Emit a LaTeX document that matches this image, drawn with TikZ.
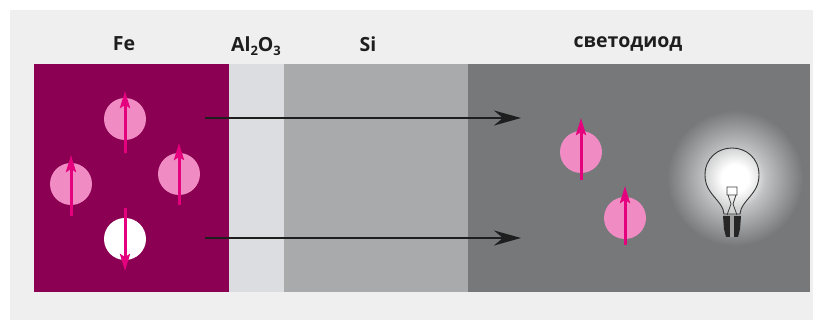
\documentclass[tikz,border=0pt]{standalone}
\usepackage{fontspec}
\setmainfont{Open Sans}
\usetikzlibrary{arrows.meta, positioning, shapes}

\definecolor{bgcol}{HTML}{EFEFEF}
\definecolor{fecol}{HTML}{8B0052}
\definecolor{alcol}{HTML}{DCDDE0}
\definecolor{sicol}{HTML}{A9AAAC}
\definecolor{ledcol}{HTML}{76787A}
\definecolor{pinkcol}{HTML}{F08CC3}
\definecolor{spincol}{HTML}{E5007E}
\definecolor{txtcol}{HTML}{1E1E1E}

\pgfdeclareradialshading{glow}{\pgfpoint{0bp}{0bp}}{color(0bp)=(white); color(5bp)=(white); color(11bp)=(ledcol!45!white); color(25bp)=(ledcol); color(50bp)=(ledcol)}

\newcommand{\idx}[1]{\raisebox{-4.5pt}{\fontsize{13}{13}\selectfont #1}}

\tikzset{
  layer/.style={rectangle, draw=none, inner sep=0pt, outer sep=0pt, minimum height=228pt},
  lbl/.style={font=\fontsize{19.5}{23}\selectfont\bfseries, text=txtcol},
  electron/.style={circle, fill=pinkcol, inner sep=0pt, minimum size=42pt},
  spin/.style={draw=spincol, line width=3pt, -{Stealth[length=17pt,width=10pt,inset=3pt]}},
  flow/.style={draw=txtcol, line width=2.8pt, -{Stealth[length=27pt,width=15pt,inset=9pt]}}
}

\begin{document}
\begin{tikzpicture}[x=1pt, y=-1pt]
  \useasboundingbox (0,0) rectangle (823,320);
  \fill[bgcol] (10,10) rectangle (813,320);

  % layers of the structure
  \node[layer, fill=fecol, minimum width=195pt, anchor=north west] (fe) at (34,64) {};
  \node[layer, fill=alcol, minimum width=55pt, right=0pt of fe] (al) {};
  \node[layer, fill=sicol, minimum width=184pt, right=0pt of al] (si) {};
  \node[layer, fill=ledcol, minimum width=342pt, right=0pt of si] (led) {};

  \node[lbl] (fel) at (124,44) {Fe};
  \node[lbl] (all) at (256,46) {Al\idx{2}O\idx{3}};
  \node[lbl] (sil) at (368,44) {Si};
  \node[lbl] (ledl) at (628,44) {светодиод};

  % glowing bulb
  \shade[shading=glow] (735,178) circle (68pt);
  \draw[gray!40!black, line width=0.9pt, fill=white, fill opacity=0.3]
    (724,214) .. controls (723,200) and (705,195) .. (705,175)
    .. controls (705,158) and (718,148) .. (732,148)
    .. controls (746,148) and (759,158) .. (759,175)
    .. controls (759,195) and (741,200) .. (740,214) -- cycle;
  \draw[gray!50!black, line width=0.8pt]
    (727,187) rectangle (737,195)
    (728,195) -- (731,204) -- (727,215)
    (736,195) -- (733,204) -- (737,215);
  \fill[black!85] (723,216) -- (741,216) -- (740,229) -- (738,237) -- (726,237) -- (724,229) -- cycle;
  \fill[gray!75] (730,216) rectangle (734,237);

  % spins in iron
  \node[electron] (e1) at (125,119) {};
  \node[electron] (e2) at (71,184) {};
  \node[electron] (e3) at (179,174) {};
  \node[electron, fill=white] (e4) at (125,239) {};
  \draw[spin] ([yshift=-34pt]e1.center) -- ([yshift=28pt]e1.center);
  \draw[spin] ([yshift=-32pt]e2.center) -- ([yshift=29pt]e2.center);
  \draw[spin] ([yshift=-31pt]e3.center) -- ([yshift=31pt]e3.center);
  \draw[spin] ([yshift=31pt]e4.center) -- ([yshift=-32pt]e4.center);

  % spins in the diode
  \node[electron] (d1) at (581,152) {};
  \node[electron] (d2) at (625,218) {};
  \draw[spin] ([yshift=-28pt]d1.center) -- ([yshift=34pt]d1.center);
  \draw[spin] ([yshift=-27pt]d2.center) -- ([yshift=32pt]d2.center);

  \coordinate (a1s) at (205,118);
  \coordinate (a1e) at (521,118);
  \coordinate (a2s) at (205,238);
  \coordinate (a2e) at (521,238);
  \draw[flow] (a1s) -- (a1e);
  \draw[flow] (a2s) -- (a2e);
\end{tikzpicture}
\end{document}
